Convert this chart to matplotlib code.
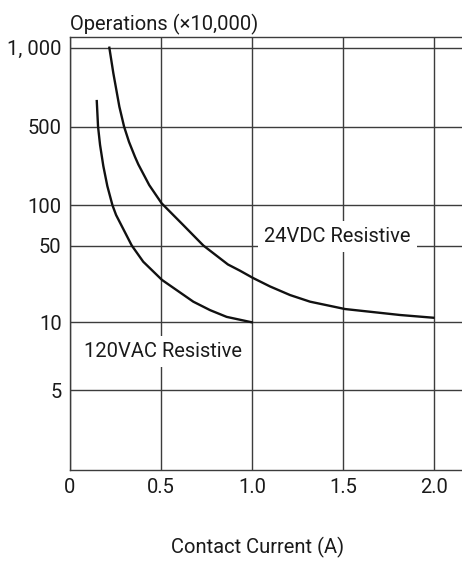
import numpy as np
from matplotlib import pyplot as plt

# Кривые ресурса контактов
dc_current = [0.216, 0.238, 0.271, 0.297, 0.324, 0.357, 0.375, 0.435, 0.503, 0.622, 0.732,
              0.867, 0.933, 1.005, 1.098, 1.208, 1.318, 1.510, 1.812, 1.995]
dc_operations = [1000, 799, 596, 500, 366, 269, 231, 151, 104, 71, 50,
                 33.6, 29.5, 25.3, 21.2, 17.7, 15.4, 13.2, 11.65, 11.0]

ac_current = [0.147, 0.154, 0.165, 0.183, 0.205, 0.233, 0.253, 0.339, 0.402, 0.505,
              0.677, 0.769, 0.860, 0.998]
ac_operations = [626, 500, 344, 223, 148, 100, 84.5, 50, 35.6, 24.3,
                 15.4, 12.9, 11.2, 10]

x_ticks = [0, 0.5, 1.0, 1.5, 2.0]
x_tick_labels = ["0", "0.5", "1.0", "1.5", "2.0"]
y_ticks = [5, 10, 50, 100, 500, 1000]
y_tick_labels = ["5", "10", "50", "100", "500", "1, 000"]

# Шкала по оси Y на графике неравномерная: кусочно-логарифмическая
scale_values = [2.221, 5, 10, 50, 100, 500, 1000, 1101]
scale_pos = [0, 0.1839, 0.3409, 0.5181, 0.6111, 0.7923, 0.9746, 1.0]
scale_logs = np.log10(scale_values)


def forward(v):
    v = np.clip(np.asarray(v, dtype=float), 1e-6, None)
    return np.interp(np.log10(v), scale_logs, scale_pos)


def inverse(p):
    return 10 ** np.interp(np.asarray(p, dtype=float), scale_pos, scale_logs)


plt.rcParams['font.family'] = ['Roboto', 'DejaVu Sans']
grid_color = "#3c3c3c"
text_color = "#1a1a1a"

fig = plt.figure(figsize=(4.62, 5.63), dpi=100)
ax = fig.add_axes([70 / 462, 93 / 563, 1 - 70 / 462, (470 - 36.7) / 563])

ax.set_yscale("function", functions=(forward, inverse))
ax.set_xlim(0, 2.152)
ax.set_ylim(scale_values[0], scale_values[-1])

ax.plot(dc_current, dc_operations, color="#111111", lw=1.7, zorder=3)
ax.plot(ac_current, ac_operations, color="#111111", lw=1.7, zorder=3)

ax.set_xticks(x_ticks)
ax.set_xticklabels(x_tick_labels)
ax.set_yticks(y_ticks)
ax.set_yticklabels(y_tick_labels)
ax.minorticks_off()
ax.tick_params(axis="both", length=0, labelsize=14.5, colors=text_color)
ax.tick_params(axis="x", pad=6)
ax.tick_params(axis="y", pad=6)

ax.grid(True, color=grid_color, lw=1.0, zorder=1)
ax.set_axisbelow(True)
for side in ["left", "bottom", "top"]:
    ax.spines[side].set_color(grid_color)
    ax.spines[side].set_linewidth(1.0)
ax.spines["right"].set_visible(False)

box = dict(boxstyle="square,pad=0.3", facecolor="white", edgecolor="none")
ax.text(1.4686, 58.2, "24VDC Resistive", fontsize=14.5, ha="center", va="center",
        color=text_color, bbox=box, zorder=4)
ax.text(0.509, 7.46, "120VAC Resistive", fontsize=14.5, ha="center", va="center",
        color=text_color, bbox=box, zorder=4)

fig.text(70 / 462, 1 - 30 / 563, "Operations (×10,000)", fontsize=14.5,
         ha="left", va="baseline", color=text_color)
fig.text(258 / 462, 1 - 553 / 563, "Contact Current (A)", fontsize=14.5,
         ha="center", va="baseline", color=text_color)

fig.savefig("out.png", dpi=100)
